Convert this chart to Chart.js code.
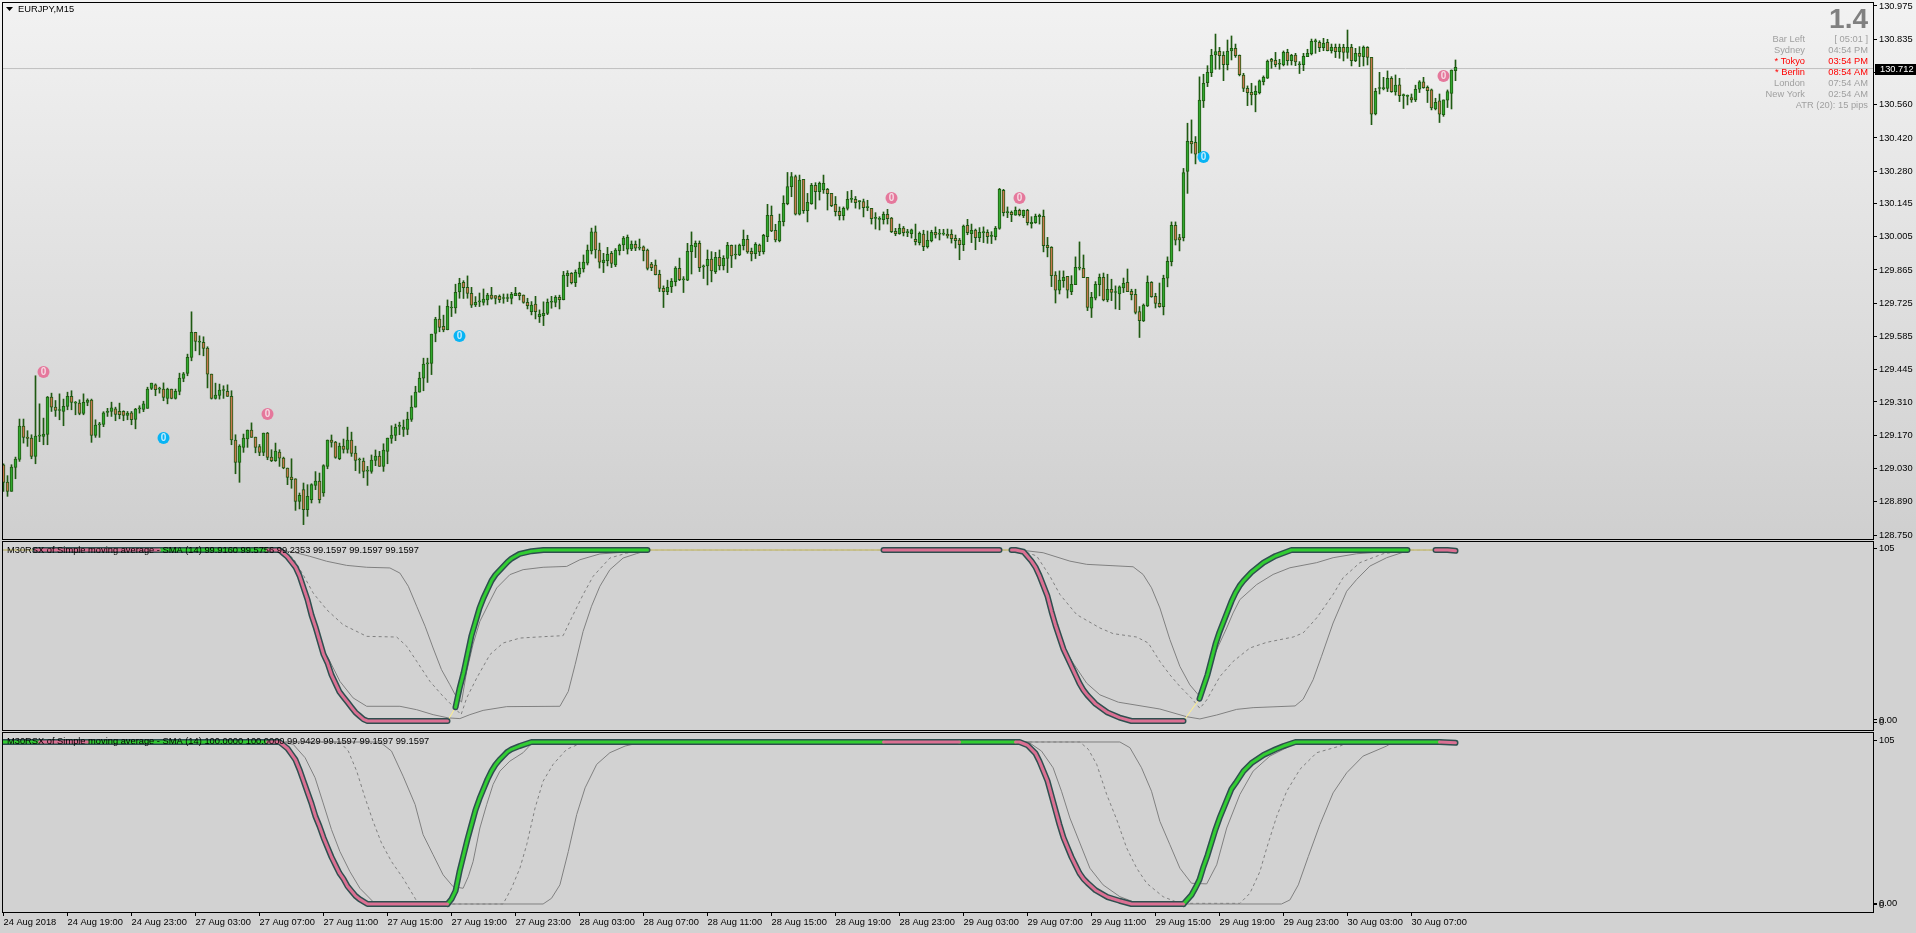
<!DOCTYPE html>
<html>
<head>
<meta charset="utf-8">
<title>EURJPY,M15</title>
<script src="https://cdn.jsdelivr.net/npm/chart.js@4"></script>
<style>
html, body { margin: 0; padding: 0; overflow: hidden; width: 1916px; height: 933px; }
body { background: linear-gradient(#f2f2f2 0, #cfcfcf 540px, #d2d2d2 540px); }
canvas { position: absolute; left: 0; }
</style>
</head>
<body>
<canvas id="priceChart" width="1916" height="540" style="top:0"></canvas>
<canvas id="rsxFast" width="1916" height="191" style="top:540px"></canvas>
<canvas id="rsxSlow" width="1916" height="201" style="top:732px"></canvas>
<script>
// Candles, one value per 15 minute bar
const opens = [
129.046,128.973,128.934,129.035,129.068,129.208,129.162,129.158,129.081,129.166,
129.165,129.173,129.330,129.288,129.274,129.270,129.291,129.334,129.305,129.305,
129.262,129.308,129.318,129.169,129.213,129.215,129.266,129.270,129.281,129.271,
129.271,129.253,129.264,129.236,129.281,129.278,129.283,129.367,129.382,129.364,
129.364,129.325,129.364,129.325,129.354,129.409,129.430,129.497,129.603,129.561,
129.561,129.536,129.427,129.325,129.337,129.358,129.355,129.334,129.150,129.056,
129.119,129.154,129.192,129.162,129.122,129.098,129.179,129.078,129.063,129.099,
129.074,129.032,128.994,128.987,128.892,128.941,128.857,128.899,128.959,128.977,
128.927,129.039,129.150,129.141,129.071,129.124,129.110,129.150,129.095,129.066,
129.061,129.019,129.018,129.064,129.082,129.039,129.102,129.157,129.169,129.207,
129.194,129.194,129.236,129.288,129.351,129.410,129.470,129.472,129.598,129.658,
129.628,129.614,129.705,129.705,129.773,129.813,129.792,129.767,129.718,129.731,
129.728,129.739,129.759,129.757,129.754,129.745,129.745,129.745,129.757,129.767,
129.759,129.729,129.690,129.721,129.669,129.673,129.682,129.729,129.728,129.750,
129.740,129.841,129.851,129.812,129.848,129.869,129.894,129.945,130.025,129.949,
129.896,129.904,129.935,129.886,129.946,129.970,129.952,129.953,129.973,129.957,
129.962,129.949,129.890,129.885,129.847,129.788,129.774,129.795,129.816,129.872,
129.823,129.822,129.942,129.962,129.977,129.878,129.882,129.911,129.858,129.918,
129.882,129.914,129.969,129.928,129.928,129.967,129.994,129.943,129.934,129.970,
129.942,130.005,130.095,130.032,129.988,130.068,130.144,130.215,130.258,130.100,
130.246,130.114,130.144,130.221,130.194,130.202,130.204,130.187,130.141,130.111,
130.093,130.124,130.162,130.162,130.152,130.153,130.127,130.124,130.082,130.078,
130.076,130.099,130.083,130.027,130.018,130.041,130.022,130.018,129.994,129.980,
130.016,129.963,129.988,130.023,130.016,130.016,130.015,130.015,129.998,129.991,
129.971,130.053,130.018,130.033,130.001,130.022,130.023,130.006,130.005,130.040,
130.200,130.106,130.107,130.095,130.116,130.093,130.116,130.060,130.064,130.089,
130.090,129.969,129.960,129.843,129.780,129.820,129.838,129.774,129.803,129.873,
129.872,129.834,129.704,129.746,129.803,129.834,129.739,129.784,129.770,129.764,
129.789,129.813,129.775,129.763,129.690,129.651,129.714,129.813,129.754,129.725,
129.711,129.830,129.900,130.053,130.001,130.001,130.279,130.406,130.402,130.356,
130.576,130.653,130.695,130.769,130.784,130.768,130.728,130.786,130.797,130.768,
130.685,130.629,130.612,130.602,130.611,130.657,130.672,130.751,130.747,130.730,
130.728,130.780,130.745,130.769,130.728,130.728,130.762,130.775,130.825,130.822,
130.800,130.822,130.787,130.801,130.783,130.801,130.780,130.801,130.745,130.776,
130.762,130.801,130.759,130.521,130.628,130.626,130.628,130.671,130.614,130.643,
130.598,130.595,130.590,130.580,130.625,130.656,130.633,130.622,130.542,130.576,
130.518,130.579,130.607,130.703];

const highs = [
129.050,129.000,129.046,129.078,129.238,129.238,129.189,129.172,129.420,129.302,
129.242,129.333,129.347,129.316,129.344,129.322,129.351,129.357,129.312,129.319,
129.344,129.323,129.322,129.235,129.224,129.269,129.283,129.309,129.288,129.305,
129.273,129.270,129.270,129.283,129.294,129.313,129.372,129.389,129.386,129.372,
129.390,129.368,129.364,129.364,129.431,129.434,129.511,129.689,129.603,129.588,
129.584,129.542,129.427,129.389,129.385,129.378,129.382,129.357,129.172,129.130,
129.175,129.192,129.222,129.162,129.131,129.179,129.182,129.109,129.137,129.109,
129.078,129.032,129.071,128.987,128.927,128.969,128.962,128.966,129.017,129.011,
129.046,129.150,129.171,129.144,129.137,129.154,129.204,129.183,129.124,129.074,
129.074,129.039,129.087,129.108,129.102,129.134,129.158,129.210,129.217,129.225,
129.234,129.267,129.336,129.376,129.435,129.494,129.494,129.595,129.666,129.714,
129.675,129.739,129.733,129.805,129.830,129.820,129.840,129.792,129.753,129.768,
129.785,129.767,129.792,129.757,129.760,129.764,129.764,129.771,129.792,129.770,
129.760,129.746,129.732,129.754,129.697,129.731,129.743,129.754,129.757,129.759,
129.859,129.862,129.854,129.865,129.898,129.928,129.970,130.041,130.050,129.978,
129.935,129.960,129.943,129.955,129.974,130.006,130.012,129.987,129.987,129.995,
129.966,129.953,129.897,129.907,129.864,129.798,129.822,129.829,129.879,129.915,
129.837,129.977,130.025,129.987,129.987,129.886,129.949,129.942,129.939,129.949,
129.925,129.981,129.970,129.970,129.974,130.033,130.011,129.957,129.980,129.974,
130.015,130.141,130.134,130.057,130.100,130.177,130.275,130.275,130.264,130.264,
130.246,130.187,130.229,130.232,130.235,130.264,130.208,130.187,130.174,130.130,
130.130,130.195,130.200,130.174,130.156,130.163,130.158,130.124,130.106,130.089,
130.109,130.120,130.086,130.040,130.058,130.048,130.036,130.037,130.058,130.025,
130.032,130.029,130.032,130.046,130.036,130.036,130.037,130.034,130.012,129.998,
130.054,130.078,130.058,130.037,130.043,130.046,130.034,130.026,130.048,130.208,
130.204,130.130,130.113,130.130,130.121,130.117,130.120,130.089,130.100,130.100,
130.117,130.002,129.963,129.858,129.861,129.861,129.838,129.841,129.920,129.983,
129.928,129.834,129.771,129.816,129.848,129.852,129.847,129.826,129.798,129.798,
129.831,129.869,129.784,129.784,129.711,129.722,129.840,129.816,129.767,129.810,
129.843,129.920,130.067,130.067,130.015,130.292,130.482,130.496,130.426,130.677,
130.688,130.724,130.793,130.857,130.801,130.783,130.832,130.849,130.815,130.769,
130.692,130.639,130.650,130.639,130.664,130.681,130.748,130.755,130.780,130.751,
130.786,130.793,130.772,130.776,130.741,130.776,130.793,130.836,130.836,130.829,
130.839,130.835,130.815,130.815,130.815,130.814,130.874,130.814,130.797,130.804,
130.807,130.804,130.759,130.629,130.696,130.675,130.702,130.678,130.685,130.671,
130.605,130.601,130.605,130.642,130.661,130.675,130.639,130.626,130.587,130.605,
130.580,130.622,130.706,130.748];

const lows = [
128.934,128.913,128.934,128.987,129.060,129.137,129.123,129.071,129.050,129.143,
129.130,129.130,129.270,129.249,129.235,129.210,129.277,129.277,129.256,129.256,
129.256,129.294,129.140,129.161,129.161,129.206,129.249,129.249,129.231,129.239,
129.231,129.235,129.214,129.197,129.263,129.269,129.283,129.362,129.336,129.347,
129.315,129.302,129.323,129.322,129.340,129.395,129.420,129.483,129.525,129.508,
129.504,129.369,129.322,129.322,129.322,129.325,129.333,129.130,129.008,128.972,
129.098,129.119,129.161,129.096,129.084,129.084,129.067,129.059,129.060,129.039,
129.029,128.962,128.947,128.854,128.860,128.794,128.829,128.885,128.941,128.885,
128.913,129.029,129.120,129.073,129.067,129.095,129.095,129.081,129.021,129.010,
128.991,128.959,129.010,129.042,129.039,129.018,129.050,129.136,129.147,129.172,
129.165,129.172,129.228,129.288,129.351,129.357,129.392,129.425,129.563,129.605,
129.605,129.613,129.669,129.683,129.746,129.745,129.746,129.707,129.711,129.711,
129.717,129.718,129.742,129.722,129.728,129.725,129.732,129.722,129.757,129.739,
129.725,129.701,129.676,129.659,129.644,129.631,129.677,129.704,129.710,129.701,
129.739,129.795,129.806,129.795,129.835,129.856,129.886,129.932,129.915,129.873,
129.854,129.882,129.875,129.879,129.928,129.946,129.932,129.946,129.946,129.949,
129.903,129.865,129.862,129.844,129.774,129.707,129.761,129.770,129.798,129.820,
129.770,129.820,129.848,129.917,129.858,129.829,129.802,129.815,129.850,129.865,
129.865,129.854,129.875,129.911,129.925,129.949,129.935,129.903,129.913,129.925,
129.932,129.984,130.026,129.983,129.983,130.050,130.139,130.173,130.096,130.096,
130.103,130.067,130.141,130.121,130.159,130.187,130.117,130.131,130.092,130.075,
130.075,130.117,130.149,130.125,130.121,130.088,130.114,130.058,130.037,130.033,
130.058,130.058,130.022,130.009,130.015,130.008,130.005,129.999,129.970,129.970,
129.946,129.957,129.983,129.999,129.991,130.011,129.999,129.978,129.957,129.908,
129.946,130.013,129.980,129.950,129.984,129.980,129.977,129.976,129.991,130.036,
130.092,130.085,130.068,130.095,130.092,130.085,130.054,130.041,130.061,130.058,
129.941,129.920,129.795,129.726,129.764,129.792,129.747,129.761,129.803,129.865,
129.833,129.694,129.665,129.739,129.756,129.735,129.731,129.736,129.701,129.698,
129.770,129.774,129.739,129.680,129.581,129.648,129.711,129.750,129.705,129.708,
129.676,129.794,129.882,129.970,129.945,129.987,130.187,130.356,130.311,130.342,
130.548,130.636,130.678,130.709,130.709,130.661,130.706,130.748,130.759,130.681,
130.615,130.556,130.559,130.530,130.605,130.643,130.670,130.713,130.719,130.709,
130.723,130.726,130.727,130.724,130.691,130.703,130.762,130.769,130.776,130.783,
130.787,130.786,130.777,130.758,130.755,130.744,130.755,130.723,130.741,130.720,
130.723,130.727,130.476,130.517,130.605,130.622,130.615,130.612,130.600,130.573,
130.544,130.559,130.570,130.573,130.611,130.629,130.569,130.538,130.538,130.485,
130.511,130.548,130.542,130.661];

const closes = [
128.972,128.934,129.036,129.070,129.208,129.161,129.157,129.081,129.166,129.166,
129.175,129.330,129.288,129.274,129.274,129.292,129.334,129.308,129.305,129.262,
129.308,129.318,129.169,129.213,129.218,129.264,129.266,129.285,129.257,129.256,
129.253,129.263,129.235,129.280,129.281,129.302,129.364,129.389,129.362,129.364,
129.329,129.364,129.325,129.355,129.410,129.428,129.498,129.603,129.564,129.561,
129.535,129.427,129.325,129.339,129.360,129.358,129.333,129.150,129.056,129.124,
129.158,129.192,129.161,129.119,129.098,129.179,129.077,129.063,129.103,129.074,
129.032,128.993,128.983,128.892,128.917,128.857,128.913,128.962,128.977,128.899,
129.042,129.150,129.140,129.077,129.124,129.110,129.150,129.094,129.064,129.066,
129.018,129.019,129.066,129.082,129.039,129.108,129.158,129.171,129.204,129.207,
129.204,129.238,129.288,129.351,129.410,129.469,129.470,129.595,129.658,129.623,
129.613,129.712,129.705,129.771,129.809,129.791,129.766,129.717,129.729,129.731,
129.742,129.759,129.745,129.745,129.740,129.745,129.745,129.763,129.767,129.757,
129.728,129.715,129.717,129.690,129.679,129.683,129.729,129.729,129.750,129.740,
129.843,129.851,129.812,129.855,129.873,129.898,129.949,130.025,129.949,129.898,
129.906,129.931,129.893,129.949,129.970,129.999,130.002,129.974,129.957,129.957,
129.946,129.871,129.875,129.845,129.787,129.774,129.792,129.817,129.873,129.824,
129.823,129.943,129.969,129.977,129.875,129.878,129.910,129.861,129.918,129.882,
129.914,129.969,129.924,129.928,129.970,129.994,129.941,129.932,129.973,129.941,
130.011,130.095,130.029,129.991,130.069,130.145,130.216,130.258,130.100,130.243,
130.114,130.149,130.221,130.194,130.229,130.229,130.186,130.135,130.110,130.093,
130.124,130.162,130.162,130.148,130.152,130.127,130.127,130.081,130.082,130.078,
130.099,130.081,130.026,130.018,130.040,130.022,130.022,130.034,129.984,130.019,
129.963,129.990,130.023,130.012,130.016,130.016,130.008,129.997,129.988,129.971,
130.050,130.022,130.032,130.001,130.023,130.022,130.005,130.006,130.040,130.204,
130.106,130.106,130.097,130.116,130.097,130.116,130.064,130.065,130.090,130.095,
129.967,129.959,129.841,129.780,129.822,129.834,129.780,129.805,129.876,129.873,
129.833,129.707,129.750,129.805,129.834,129.739,129.784,129.770,129.770,129.794,
129.809,129.774,129.761,129.686,129.652,129.717,129.813,129.753,129.724,129.711,
129.830,129.901,130.053,129.990,129.991,130.275,130.406,130.395,130.352,130.579,
130.650,130.696,130.768,130.783,130.766,130.728,130.784,130.797,130.766,130.686,
130.628,130.611,130.601,130.616,130.660,130.675,130.742,130.742,130.728,130.730,
130.780,130.745,130.768,130.740,130.728,130.763,130.776,130.826,130.825,130.800,
130.818,130.787,130.801,130.783,130.801,130.780,130.801,130.745,130.776,130.763,
130.801,130.759,130.520,130.616,130.628,130.632,130.671,130.615,130.642,130.598,
130.598,130.595,130.580,130.625,130.656,130.632,130.619,130.546,130.570,130.520,
130.580,130.615,130.705,130.717];

// Arrow markers on the price panel
const sellBars = [10, 66, 222, 254, 360];
const sellPrices = [129.436, 129.259, 130.168, 130.168, 130.681];
const buyBars = [40, 114, 300];
const buyPrices = [129.158, 129.587, 130.340];

const currentPrice = 130.712;
const priceTicks = [130.975,130.835,130.695,130.560,130.420,130.280,130.145,130.005,129.865,129.725,129.585,129.445,129.310,129.170,129.030,128.890,128.750];

const timeTickBars = [0,16,32,48,64,80,96,112,128,144,160,176,192,208,224,240,256,272,288,304,320,336,352];
const timeLabels = ['24 Aug 2018','24 Aug 19:00','24 Aug 23:00','27 Aug 03:00','27 Aug 07:00','27 Aug 11:00','27 Aug 15:00','27 Aug 19:00','27 Aug 23:00','28 Aug 03:00','28 Aug 07:00','28 Aug 11:00','28 Aug 15:00','28 Aug 19:00','28 Aug 23:00','29 Aug 03:00','29 Aug 07:00','29 Aug 11:00','29 Aug 15:00','29 Aug 19:00','29 Aug 23:00','30 Aug 03:00','30 Aug 07:00'];

// Middle panel, thick RSX line
const midBars = [0,8,39,66,69,70,71,72,73,74,75,76,77,78,79,80,81,82,83,84,85,86,87,88,89,90,91,111,113,114,115,116,117,118,119,120,121,122,123,124,125,126,127,129,132,135,161,220,249,252,253,255,257,258,259,260,261,262,263,264,265,266,267,268,269,270,271,273,276,279,282,295,299,300,301,302,303,304,305,306,307,308,309,310,312,315,318,322,351,358,361,363];
const midRsx = [100,100,100,100,100,98,96,93,90,85,78,71,62,55,47,39,34,27,22,17,14,11,8,5,3,1,0,0,8,19,28,39,50,58,66,72,77,82,85.5,88,90.5,93,95,97.7,99.3,100,100,100,100,100,100,99,93.5,90,85,79,73,64,56,49,42,37,32,27,22,18,15,10,5,2,0,0,13,20,27,36,45,52,58,64,70,75,79,82,87,92.6,96.5,100,100,100,100,99.5];
const midPink = [[8,39],[66,111],[220,249],[252,295],[358,363]];
const midGreen = [[39,66],[113,161],[299,351]];

// Middle panel, thin lines
const midSlowBars = [0,69.1,72.4,76.6,80.8,85.8,90.8,96.6,99.1,101.2,103.3,105.4,107.4,109.5,111.6,112.9,114.5,115.8,117.4,119.1,121.6,123.3,126.6,129.9,134.9,140.8,144.1,149.1,155.8,161.4,254.1,259.9,266.6,270.8,282.4,284.9,287,289.1,291.6,294.1,296.6,298.7,301.2,303.3,305.8,307.4,309.1,313.3,317.4,321.6,328.3,332.4,338.3,351.6,363];
const midSlow = [100,99.8,98.8,96.3,93.4,91,89.9,89.5,86.5,78.8,67.1,55.4,42.7,30,21.2,15.4,11,29,45,58.3,70,77.8,85.6,88.5,89.9,90.4,94.3,97.7,98.8,100,100,98.4,93.5,91.6,90.2,85.7,77.9,66.1,47.6,31.9,21.1,15.3,29.9,41.7,54.4,63.2,71,79.8,85.7,89.6,92.6,95.5,97.8,100,100];
const midDashBars = [0,69.1,72.4,74.9,77.4,80.8,84.9,90.8,98.3,100.8,103.3,106.6,109.9,112.4,114.4,115.8,118.3,121.6,124.9,129.1,134.9,139.9,142,144.9,147.4,151.6,155.8,161.4,254.1,258.3,261.6,264.1,268.3,274.1,277.4,283.3,286.2,289.1,291.6,294.1,297,299.1,300.8,304.1,307.4,311.6,315.8,322.4,324.9,328.3,332.4,334.9,339.1,344.9,351.6,363];
const midDash = [100,99.8,95.3,85.6,74.9,65.1,56.3,49.5,49.1,43.7,34.9,23.2,14.4,8.6,3.7,13.5,25.1,38.8,45.6,48.5,49.3,49.9,60.2,73.9,84.6,95.3,98.2,100,100,96.5,84.7,74,62.2,54.4,51.1,49.1,45.6,34.8,27,20.2,13.3,7.4,12.3,26,34.8,42.7,46,49.1,51.5,60.3,74,83.8,92.6,97.8,100,100];
const midLowBars = [0,69,72.5,74.9,77.4,79.9,81.2,84.1,87.4,90.8,99.1,103.3,107.4,111.2,114.1,116.6,119.9,125.8,139.1,141.2,142.9,144.9,147,149.1,151.6,154.9,158.3,161.4,254.1,257.4,260.8,263.7,265.4,267.4,270.8,274.1,278.7,289.1,295.8,299.1,303.3,308.3,312.4,322.9,324.9,327.4,329.5,332.4,335.8,338.3,341.6,345.8,351.6,363];
const midLow = [100,100,91.4,78.8,59.3,40.7,36.8,23.2,13.5,8.6,8.6,6.6,3.7,1.8,1.4,3.7,6.2,8.4,8.6,17.3,32.9,52.4,67.1,78.8,88.5,95.3,97.9,100,100,92.6,74,50.5,41.7,33.9,22.1,15.3,11,7,2.5,1.2,3.5,6.8,7.8,8.8,12.7,24.1,37.8,57.3,75.9,82.8,90.6,95.5,100,100];

// Bottom panel, thick RSX line
const lowBars = [0,9,21,66,69,70,71,72,73,74,75,76,77,78,79,80,81,82,83,84,85,86,87,88,89,91,111,112,113,114,115,116,117,118,119,120,121,122,123,124,125,126,127,129,132,220,239,253,254,256,258,259,260,261,262,263,264,265,266,267,268,269,270,271,273,276,279,282,295,297,298,299,300,301,302,303,304,305,306,307,308,310,312,315,318,320,323,359,363];
const lowRsx = [100,100,100,100,100,98,96,92.5,89,83,76,69,62,54,48,41,35,29,24,19,15.5,11,8,5,3,0,0,3,8,20,30,40,49,58,65,71,77,82,86,89,91.5,94,95.5,97.5,100,100,100,100,100,98,93,88,82,76,67,58,49,41,35,29,24,19,15.5,13,8.5,4.3,2,0,0,5.6,10,15,23,30,38,46,53,59,65,71,74.5,82,87,92,95.5,97.5,100,100,99.5];
const lowPink = [[9,21],[66,111],[220,239],[253,295],[359,363]];
const lowGreen = [[0,9],[21,66],[111,220],[239,253],[295,359]];

// Bottom panel, thin lines
const lowFastBars = [0,69.1,72.4,75.4,77.9,79.9,82,84.1,86.6,89.1,92.4,94.1,134.9,137,139.1,141.2,143.3,145.4,148.3,151.6,155.4,159.9,256.2,259.5,262.4,264.5,266.6,269.1,271.6,274.9,279.1,282.4,286.6,319.5,321.6,323.7,326.2,329.1,332.4,335.8,339.9,345.8,347.4,363];
const lowFast = [100,100,98.6,90.3,77.9,62.4,45.9,32.4,20,9.7,1.4,0,0,3.5,11.8,32.4,55.2,71.7,86.2,93.4,97.5,100,100,94.4,84.1,69.6,53.1,37.6,22.1,11.8,4.5,1.4,0,0,2.5,11.8,29.3,49,68.6,81,91.3,97.5,100,100];
const lowDashBars = [0,84.1,86.2,88.3,90.4,92.4,94.5,97,99.9,102.9,103.7,124.9,127,129.1,130.8,132.9,134.9,137.4,140.8,143.3,147.4,269.1,271.2,273.3,275.8,278.3,280.8,283.3,285.8,289.9,294.1,309.1,311.6,314.1,315.8,318.3,320.8,324.1,328.3,334.1,336.6,363];
const lowDash = [100,100,94.4,82,65.5,51,37.6,26.2,15.9,3.5,0,0,9.7,22.1,36.6,59.3,75.8,86.2,95.5,98.1,100,100,95.5,86.2,67.6,52.1,34.5,22.1,12.8,4.5,0.4,0.4,6.6,20,34.5,54.1,69.6,83.1,93.4,97.5,100,100];
const lowSlowBars = [0,94.1,97,99.9,102.9,104.9,107.4,109.9,112.4,114.9,116.2,117.4,119.1,120.8,122.4,124.1,126.6,129.9,132.4,279.1,281.6,284.5,287,289.1,291.6,294.1,297,300.8,303.3,305.8,309.1,312.4,316.6,320.8,323.3,363];
const lowSlow = [100,100,94.4,78.9,61.4,42.8,30.4,18,10.7,9.7,16.9,26.2,46.9,61.4,73.8,82,88.2,93.4,100,100,96.5,84.1,69.6,51,36.6,22.1,12.8,12.4,24.2,46.9,67.6,82,91.3,96.5,100,100];

const panelTickValues = [101, 0.6, -0.6];
const panelTickLabels = ['105', '0.00', '0'];

const infoNames = ['Bar Left', 'Sydney', '* Tokyo', '* Berlin', 'London', 'New York'];
const infoTimes = ['[ 05:01 ]', '04:54 PM', '03:54 PM', '08:54 AM', '07:54 AM', '02:54 AM'];
const infoActive = [false, false, true, true, false, false];

const FONT = '"Liberation Sans", Arial, sans-serif';
const AXIS_FONT = { family: FONT, size: 9.3 };
const BAR_COUNT_MAX = 467.375;

const toPoints = (xs, ys) => xs.map((x, i) => ({ x, y: ys[i] }));
const wickColor = '#1f5a12';
const green = '#32cd32';
const pink = '#db7093';
const outline = '#2f4f4f';

// Border round each panel and text on top of it
const frame = {
    id: 'frame',
    afterDraw(chart, args, opts) {
        const { ctx, chartArea: a } = chart;
        ctx.save();
        ctx.strokeStyle = '#000';
        ctx.lineWidth = 1;
        ctx.strokeRect(a.left - 0.5, a.top + 0.5, a.right - a.left + 1, a.bottom - a.top - 1);
        ctx.textBaseline = 'middle';
        ctx.textAlign = 'left';
        ctx.fillStyle = '#000';
        ctx.font = '9.3px ' + FONT;
        if (opts.title) ctx.fillText(opts.title, 7, a.top + 9);
        ctx.restore();
    }
};

const priceOverlay = {
    id: 'priceOverlay',
    afterDraw(chart) {
        const { ctx, scales: { y } } = chart;
        ctx.save();

        // "0" on the arrow markers
        ctx.textAlign = 'center';
        ctx.textBaseline = 'middle';
        ctx.font = 'bold 10px ' + FONT;
        chart.data.datasets.forEach((ds, idx) => {
            if (!ds.markerText) return;
            ctx.fillStyle = ds.markerText;
            chart.getDatasetMeta(idx).data.forEach(p => ctx.fillText('0', p.x, p.y + 0.5));
        });

        // symbol
        ctx.fillStyle = '#000';
        ctx.beginPath();
        ctx.moveTo(6, 7);
        ctx.lineTo(13, 7);
        ctx.lineTo(9.5, 11);
        ctx.closePath();
        ctx.fill();
        ctx.textAlign = 'left';
        ctx.font = '9.3px ' + FONT;
        ctx.fillText('EURJPY,M15', 18, 9);

        // info block, top right
        ctx.textAlign = 'right';
        ctx.fillStyle = '#808080';
        ctx.font = 'bold 28px ' + FONT;
        ctx.fillText('1.4', 1868, 20);
        ctx.font = '9.3px ' + FONT;
        infoNames.forEach((name, i) => {
            ctx.fillStyle = infoActive[i] ? '#ff0000' : '#a0a0a0';
            ctx.fillText(name, 1805, 39 + i * 11);
            ctx.fillText(infoTimes[i], 1868, 39 + i * 11);
        });
        ctx.fillStyle = '#a0a0a0';
        ctx.fillText('ATR (20): 15 pips', 1868, 105);

        // current price flag
        const py = y.getPixelForValue(currentPrice);
        ctx.fillStyle = '#000';
        ctx.fillRect(1875, Math.round(py) - 5, 41, 11);
        ctx.fillStyle = '#fff';
        ctx.textAlign = 'left';
        ctx.fillText(currentPrice.toFixed(3), 1880, py + 0.5);
        ctx.restore();
    }
};

const xScale = (showLabels) => ({
    type: 'linear',
    min: -0.125,
    max: BAR_COUNT_MAX,
    offset: false,
    display: showLabels,
    grid: { display: showLabels, drawOnChartArea: false, drawTicks: true, tickLength: 3, color: '#000', offset: false },
    border: { display: false },
    afterBuildTicks: (scale) => { scale.ticks = timeTickBars.map(value => ({ value })); },
    afterFit: (scale) => {
        scale.height = showLabels ? 20 : 0;
        scale.paddingLeft = 0;
        scale.paddingRight = 0;
    },
    ticks: {
        autoSkip: false,
        maxRotation: 0,
        align: 'start',
        padding: 1,
        color: '#000',
        font: AXIS_FONT,
        callback: (value) => timeLabels[timeTickBars.indexOf(value)]
    }
});

const yScale = (min, max, values, label) => ({
    position: 'right',
    min,
    max,
    border: { display: false },
    grid: { drawOnChartArea: false, drawTicks: true, tickLength: 4, color: '#000' },
    afterBuildTicks: (scale) => { scale.ticks = values.map(value => ({ value })); },
    afterFit: (scale) => {
        scale.width = 43;
        scale.paddingTop = 0;
        scale.paddingBottom = 0;
    },
    ticks: { autoSkip: false, padding: 2, color: '#000', font: AXIS_FONT, callback: label }
});

const baseOptions = {
    responsive: false,
    animation: false,
    devicePixelRatio: 1,
    events: []
};

// Price panel: floating bars for wicks and bodies
const barIndex = opens.map((_, i) => i);
new Chart(document.getElementById('priceChart'), {
    type: 'bar',
    data: {
        datasets: [
            {
                type: 'line',
                data: toPoints([-0.125, BAR_COUNT_MAX], [currentPrice, currentPrice]),
                borderColor: '#c0c0c0',
                borderWidth: 1,
                pointRadius: 0,
                order: 5
            },
            {
                data: barIndex.map(i => ({ x: i, y: [lows[i], highs[i]] })),
                backgroundColor: wickColor,
                barThickness: 1,
                minBarLength: 1,
                grouped: false,
                order: 4
            },
            {
                data: barIndex.map(i => ({ x: i, y: [Math.min(opens[i], closes[i]), Math.max(opens[i], closes[i])] })),
                backgroundColor: barIndex.map(i => closes[i] >= opens[i] ? '#32a82e' : '#c8784f'),
                borderColor: wickColor,
                borderWidth: 1,
                borderSkipped: false,
                barThickness: 3,
                minBarLength: 1,
                grouped: false,
                order: 3
            },
            {
                type: 'scatter',
                data: toPoints(sellBars, sellPrices),
                pointRadius: 6,
                pointBackgroundColor: '#e5789c',
                pointBorderWidth: 0,
                markerText: '#f6dbe4',
                order: 1
            },
            {
                type: 'scatter',
                data: toPoints(buyBars, buyPrices),
                pointRadius: 6,
                pointBackgroundColor: '#08b4f4',
                pointBorderWidth: 0,
                markerText: '#c4ecff',
                order: 1
            }
        ]
    },
    options: {
        ...baseOptions,
        layout: { autoPadding: false, padding: { left: 3, top: 2, right: 0, bottom: 0 } },
        scales: {
            x: xScale(false),
            y: yScale(128.7294, 130.9918, priceTicks, (v) => v.toFixed(3))
        },
        plugins: { legend: { display: false }, tooltip: { enabled: false }, frame: {} }
    },
    plugins: [frame, priceOverlay]
});

// One RSX panel: thin lines, pale base line, then coloured thick pieces
const thin = (xs, ys, dash) => ({
    data: toPoints(xs, ys),
    borderColor: '#808080',
    borderWidth: 1,
    borderDash: dash ? [3, 3] : [],
    pointRadius: 0,
    order: 6
});

const piece = (xs, ys, range, color, width, order) => {
    const idx = xs.map((x, i) => i).filter(i => xs[i] >= range[0] && xs[i] <= range[1]);
    return {
        data: idx.map(i => ({ x: xs[i], y: ys[i] })),
        borderColor: color,
        borderWidth: width,
        borderCapStyle: 'round',
        borderJoinStyle: 'round',
        pointRadius: 0,
        order
    };
};

function rsxPanel(id, bars, values, pinks, greens, thinLines, min, max, title, showTime, padding) {
    const ranges = pinks.map(r => [r, pink]).concat(greens.map(r => [r, green]));
    new Chart(document.getElementById(id), {
        type: 'line',
        data: {
            datasets: [
                ...thinLines,
                { data: toPoints(bars, values), borderColor: '#fff08a', borderWidth: 1, pointRadius: 0, order: 5 },
                ...ranges.map(([r]) => piece(bars, values, r, outline, 6, 4)),
                ...ranges.map(([r, c]) => piece(bars, values, r, c, 3, 3))
            ]
        },
        options: {
            ...baseOptions,
            layout: { autoPadding: false, padding },
            scales: {
                x: xScale(showTime),
                y: yScale(min, max, panelTickValues, (v) => panelTickLabels[panelTickValues.indexOf(v)])
            },
            plugins: { legend: { display: false }, tooltip: { enabled: false }, frame: { title } }
        },
        plugins: [frame]
    });
}

rsxPanel('rsxFast', midBars, midRsx, midPink, midGreen,
    [thin(midSlowBars, midSlow), thin(midDashBars, midDash, true), thin(midLowBars, midLow)],
    -5.85, 105.26,
    'M30RSX of Simple moving average - SMA (14) 99.9160 99.5756 99.2353 99.1597 99.1597 99.1597',
    false, { left: 3, top: 1, right: 0, bottom: 0 });

rsxPanel('rsxSlow', lowBars, lowRsx, lowPink, lowGreen,
    [thin(lowFastBars, lowFast), thin(lowDashBars, lowDash, true), thin(lowSlowBars, lowSlow)],
    -5.56, 106.17,
    'M30RSX of Simple moving average - SMA (14) 100.0000 100.0000 99.9429 99.1597 99.1597 99.1597',
    true, { left: 3, top: 0, right: 0, bottom: 0 });
</script>
</body>
</html>
